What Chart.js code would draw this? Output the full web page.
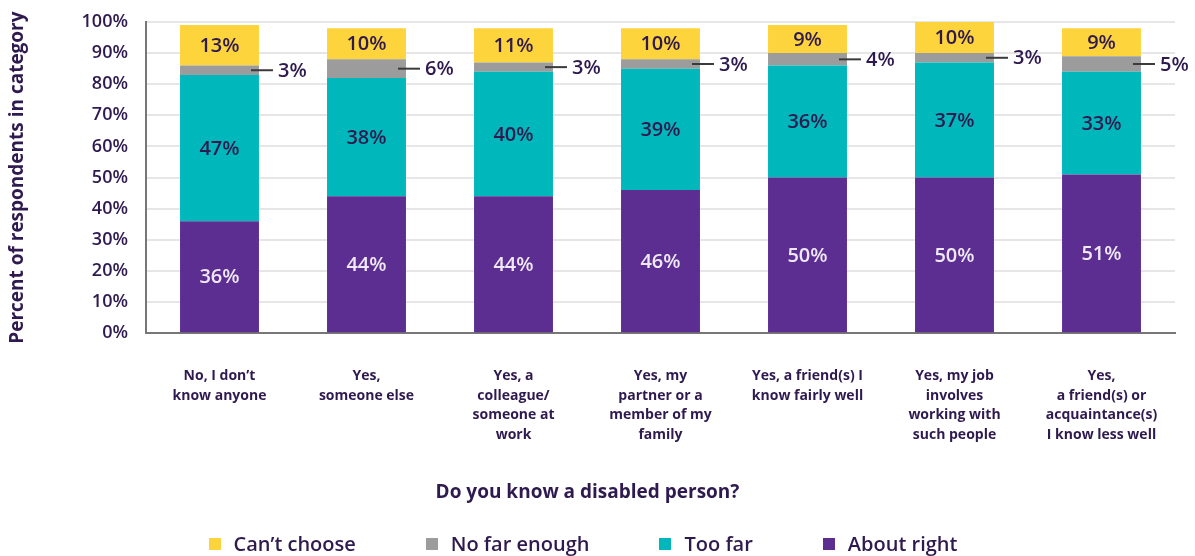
<!DOCTYPE html>
<html>
<head>
<meta charset="utf-8">
<script src="https://cdn.jsdelivr.net/npm/chart.js@4.4.1/dist/chart.umd.min.js"></script>
<style>
body { margin: 0; background: #fff; }
#wrap { position: relative; width: 1195px; height: 556px; }
#legend {
    position: absolute; left: 0; top: 532px; width: 1195px; box-sizing: border-box;
    padding-right: 29px;
    display: flex; justify-content: center; gap: 70px;
    font: 600 20px "Open Sans"; color: #2f1a4f; line-height: 24px;
}
.item { display: flex; align-items: center; }
.swatch { width: 12px; height: 12px; margin-right: 13px; }
</style>
</head>
<body>
<div id="wrap">
    <canvas id="chart" width="1195" height="556"></canvas>
    <div id="legend"></div>
</div>
<script>
const categories = [
    ['No, I don’t', 'know anyone'],
    ['Yes,', 'someone else'],
    ['Yes, a', 'colleague/', 'someone at', 'work'],
    ['Yes, my', 'partner or a', 'member of my', 'family'],
    ['Yes, a friend(s) I', 'know fairly well'],
    ['Yes, my job', 'involves', 'working with', 'such people'],
    ['Yes,', 'a friend(s) or', 'acquaintance(s)', 'I know less well']
];

const aboutRight = [36, 44, 44, 46, 50, 50, 51];
const tooFar = [47, 38, 40, 39, 36, 37, 33];
const notFarEnough = [3, 6, 3, 3, 4, 3, 5];
const cantChoose = [13, 10, 11, 10, 9, 10, 9];

const yTicks = [0, 10, 20, 30, 40, 50, 60, 70, 80, 90, 100];

const textColor = '#2f1a4f';
const fontFamily = '"Open Sans", sans-serif';

// value labels: inside each segment, grey segment gets a leader line to the right
const segmentLabels = {
    id: 'segmentLabels',
    afterDatasetsDraw(chart) {
        const ctx = chart.ctx;
        ctx.save();
        ctx.font = '600 20px ' + fontFamily;
        ctx.textBaseline = 'middle';
        chart.data.datasets.forEach((ds, di) => {
            const meta = chart.getDatasetMeta(di);
            meta.data.forEach((bar, i) => {
                const text = ds.data[i] + '%';
                const midY = (bar.y + bar.base) / 2;
                if (di === 2) {
                    const right = bar.x + bar.width / 2;
                    ctx.strokeStyle = '#3a3a3a';
                    ctx.lineWidth = 2;
                    ctx.beginPath();
                    ctx.moveTo(right - 8, midY);
                    ctx.lineTo(right + 14, midY);
                    ctx.stroke();
                    ctx.textAlign = 'left';
                    ctx.fillStyle = textColor;
                    ctx.fillText(text, right + 19, midY + 1);
                } else {
                    ctx.textAlign = 'center';
                    ctx.fillStyle = di === 0 ? '#efe8f5' : textColor;
                    ctx.fillText(text, bar.x, midY + 1);
                }
            });
        });
        ctx.restore();
    }
};

const chart = new Chart(document.getElementById('chart'), {
    type: 'bar',
    data: {
        labels: categories,
        datasets: [
            { label: 'About right', data: aboutRight, backgroundColor: '#5c2e91' },
            { label: 'Too far', data: tooFar, backgroundColor: '#00b8bc' },
            { label: 'No far enough', data: notFarEnough, backgroundColor: '#9c9c9c' },
            { label: 'Can’t choose', data: cantChoose, backgroundColor: '#fed43c' }
        ]
    },
    options: {
        responsive: false,
        animation: false,
        layout: { padding: { top: 22, right: 20, bottom: 52, left: 0 } },
        datasets: { bar: { barPercentage: 0.537, categoryPercentage: 1 } },
        plugins: {
            legend: { display: false },
            tooltip: { enabled: false },
            title: {
                display: true,
                position: 'bottom',
                text: 'Do you know a disabled person?',
                color: textColor,
                font: { family: fontFamily, size: 19, weight: '700' },
                padding: { top: 28, bottom: 0 }
            }
        },
        scales: {
            x: {
                stacked: true,
                grid: { display: false, drawTicks: false },
                border: { display: true, color: '#777', width: 2 },
                ticks: {
                    color: textColor,
                    font: { family: fontFamily, size: 14, weight: '700', lineHeight: 1.4 },
                    padding: 33,
                    maxRotation: 0,
                    autoSkip: false
                },
                afterFit(scale) { scale.height = 120; }
            },
            y: {
                stacked: true,
                min: 0,
                max: 100,
                afterBuildTicks(scale) { scale.ticks = yTicks.map(v => ({ value: v })); },
                grid: { color: '#e6e6e6', lineWidth: 2, drawTicks: false },
                border: { display: true, color: '#777', width: 2 },
                ticks: {
                    color: textColor,
                    font: { family: fontFamily, size: 18, weight: '600' },
                    padding: 18,
                    callback: v => v + '%'
                },
                title: {
                    display: true,
                    text: 'Percent of respondents in category',
                    color: textColor,
                    font: { family: fontFamily, size: 19, weight: '700' },
                    padding: { top: 6, bottom: 0 }
                },
                afterFit(scale) {
                    scale.width = 146;
                    scale.paddingTop = 0;
                }
            }
        }
    },
    plugins: [segmentLabels]
});

// legend in the reference order (top segment first)
const legend = document.getElementById('legend');
chart.data.datasets.slice().reverse().forEach(ds => {
    const item = document.createElement('div');
    item.className = 'item';
    item.innerHTML = `<span class="swatch" style="background:${ds.backgroundColor}"></span>${ds.label}`;
    legend.appendChild(item);
});
</script>
</body>
</html>
